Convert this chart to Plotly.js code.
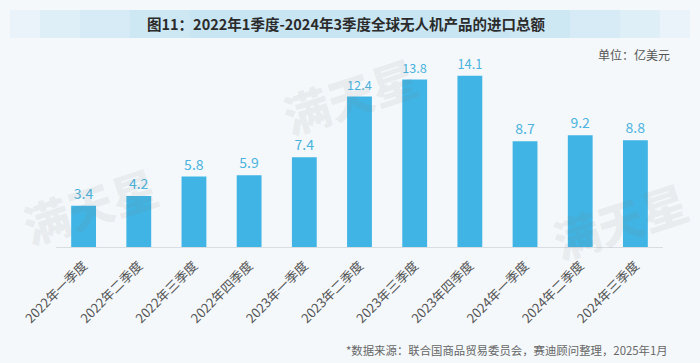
<!DOCTYPE html>
<html><head><meta charset="utf-8">
<script src="https://cdn.plot.ly/plotly-3.0.1.min.js"></script>
<style>html,body{margin:0;padding:0;background:#f4f8fb;}#c{width:700px;height:363px;}</style>
</head><body><div id="c"></div>
<script>
const categories = ['2022年一季度','2022年二季度','2022年三季度','2022年四季度','2023年一季度','2023年二季度','2023年三季度','2023年四季度','2024年一季度','2024年二季度','2024年三季度'];
const values = [3.4, 4.2, 5.8, 5.9, 7.4, 12.4, 13.8, 14.1, 8.7, 9.2, 8.8];
const labels = values.map(v => v.toFixed(1));

const font = '"Noto Sans CJK SC", "Noto Sans", sans-serif';
// pixel -> paper helpers (plot area: x 56..663, y 60..247)
const px = x => (x - 56) / 607;
const py = y => (247 - y) / 187;

const shapes = [];
const bands = [[10,690,0.08],[40,660,0.08],[80,620,0.08],[130,570,0.07],[190,510,0.06]];
bands.forEach(b => shapes.push({type:'rect', xref:'paper', yref:'paper', layer:'below',
  x0:px(b[0]), x1:px(b[1]), y0:py(38), y1:py(10), line:{width:0}, fillcolor:'rgba(110,195,232,'+b[2]+')'}));

const wm = (x, y, s) => ({text:'满天星', xref:'paper', yref:'paper', x:px(x), y:py(y), xanchor:'center', yanchor:'middle',
  showarrow:false, textangle:-18, font:{family:font, size:s, color:'rgba(120,120,120,0.10)', weight:900}});

const trace = {
  type:'bar', x:categories, y:values, text:labels, textposition:'outside',
  textfont:{family:font, size:14, color:'#4bb3de'},
  marker:{color:'#40b5e5'}, cliponaxis:false, hoverinfo:'none'
};
const layout = {
  width:700, height:363,
  margin:{l:56, r:37, t:60, b:116},
  paper_bgcolor:'#f4f8fb', plot_bgcolor:'rgba(0,0,0,0)',
  bargap:0.55, showlegend:false,
  font:{family:font},
  xaxis:{tickangle:-45, tickfont:{family:font, size:13, color:'#555'}, ticklabelstandoff:5, showline:true, linecolor:'#d8dde2', linewidth:1, ticks:'', showgrid:false, fixedrange:true},
  yaxis:{range:[0,15.4], visible:false, showgrid:false, zeroline:false, fixedrange:true},
  shapes:shapes,
  annotations:[
    wm(90, 205, 46), wm(350, 95, 46), wm(620, 220, 46),
    {text:'<b>图11：2022年1季度-2024年3季度全球无人机产品的进口总额</b>', xref:'paper', yref:'paper', x:px(346), y:py(24), xanchor:'center', yanchor:'middle', showarrow:false, font:{family:font, size:14.5, color:'#2b2b2b'}},
    {text:'单位：亿美元', xref:'paper', yref:'paper', x:px(672), y:py(55), xanchor:'right', yanchor:'middle', showarrow:false, font:{family:font, size:12, color:'#555'}},
    {text:'*数据来源：联合国商品贸易委员会，赛迪顾问整理，2025年1月', xref:'paper', yref:'paper', x:px(670), y:py(350), xanchor:'right', yanchor:'middle', showarrow:false, font:{family:font, size:11.4, color:'#666'}}
  ]
};
Plotly.newPlot('c', [trace], layout, {staticPlot:true, displayModeBar:false});
</script></body></html>
